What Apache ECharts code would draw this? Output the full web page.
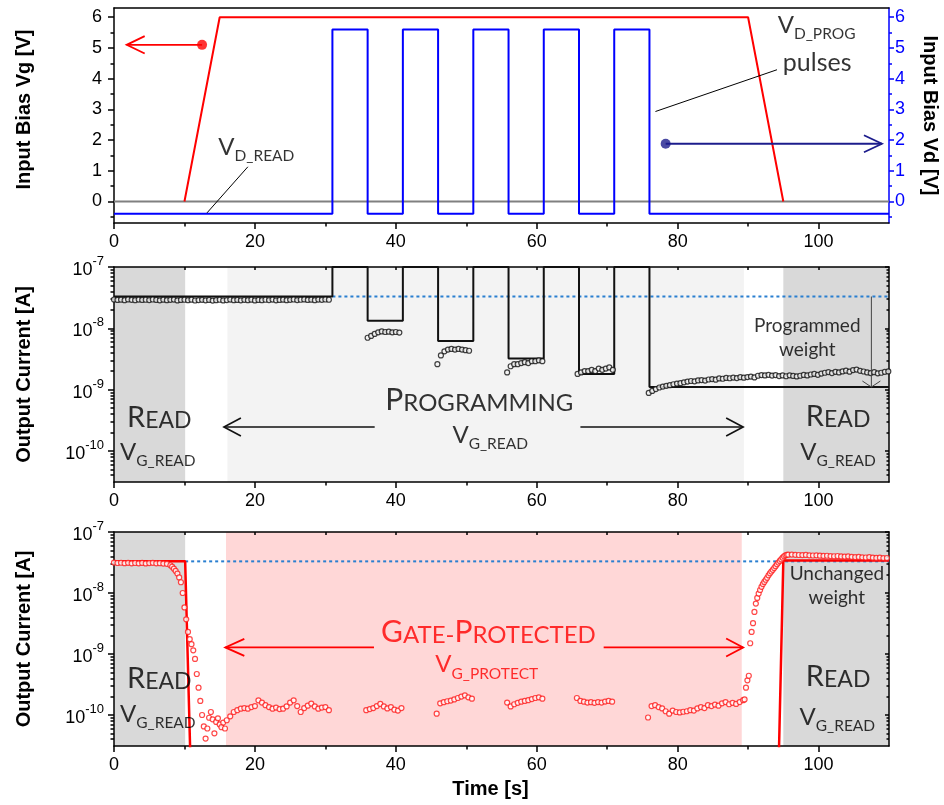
<!DOCTYPE html>
<html><head><meta charset="utf-8">
<script src="https://cdn.jsdelivr.net/npm/echarts@6/dist/echarts.min.js"></script>
<style>html,body{margin:0;padding:0;background:#fff}#c{width:944px;height:805px}</style>
</head><body><div id="c"></div>
<script>
// ================= DATA =================
// time axis ticks [s]
const xTickLabels = [0, 20, 40, 60, 80, 100];
const xMinorTicks = [10, 30, 50, 70, 90];
const xTopTicks = [10, 20, 30, 40, 50, 60, 70, 80, 90, 100];

// panel 1 (bias) ticks [V]
const p1TickLabels = [0, 1, 2, 3, 4, 5, 6];
const p1MinorTicks = [-0.5, 0.5, 1.5, 2.5, 3.5, 4.5, 5.5];

// panel 1: gate bias Vg [V]
const vgTimes = [10, 15, 90, 95];
const vgValues = [0, 6, 6, 0];
// panel 1: zero reference line
const zeroTimes = [0, 110];
const zeroValues = [0, 0];
// panel 1: drain programming pulses Vd [V]
const pulseStarts = [31, 41, 51, 61, 71];
const pulseEnds = [36, 46, 56, 66, 76];
const vdHigh = 5.6;
const vdLow = -0.4;

// current axes (values stored in nA; labels shown in A)
const logLabelValues = [0.1, 1, 10, 100];   // 1e-10 ... 1e-7 A
const refLevel = 33;                          // initial weight level, nA

// panel 2: programming reference (black step) line [nA]
const p2StepTimes  = [0, 31, 31, 36, 36, 41, 41, 46, 46, 51, 51, 56, 56, 61, 61, 66, 66, 71, 71, 76, 76, 110];
const p2StepValues = [33, 33, 100, 100, 13.3, 13.3, 100, 100, 6.2, 6.2, 100, 100, 3.2, 3.2, 100, 100, 1.8, 1.8, 100, 100, 1.1, 1.1];

// panel 2: measured current segments [nA], sampled every 0.5 s
const p2SegStarts = [0, 36, 45.9, 55.8, 65.8, 75.9];
const p2SegStep = 0.5;
const p2SegA = [29.5,29.0,29.3,28.8,29.6,29.1,28.7,29.4,29.0,29.2,
  28.9,29.5,29.0,28.6,29.3,28.8,29.1,29.4,28.5,29.0,
  29.2,28.7,29.3,28.4,28.9,29.1,28.6,29.0,28.3,28.8,
  29.2,28.5,28.9,29.4,28.7,29.0,28.6,29.1,28.8,29.3,
  28.5,29.0,28.7,29.2,28.9,29.4,28.6,29.0,29.3,28.8,
  29.1,29.5,28.9,29.2,29.6,29.0,29.3,28.8,29.4,29.1,
  29.5,29.2];
const p2SegB = [7.0,7.5,8.1,8.6,8.9,8.7,8.8,8.6,8.7,8.5];
const p2SegC = [2.6,3.6,4.2,4.5,4.6,4.5,4.6,4.5,4.4,4.3];
const p2SegD = [1.9,2.4,2.6,2.6,2.7,2.8,2.7,2.9,2.9,3.0,2.9];
const p2SegE = [1.8,1.9,2.0,2.0,2.1,2.0,2.2,2.1,2.2,2.3,2.1];
const p2SegF = [0.88,0.95,1.02,1.08,1.12,1.15,1.18,1.22,1.25,1.27,
  1.31,1.35,1.38,1.36,1.41,1.43,1.40,1.46,1.48,1.45,
  1.52,1.50,1.55,1.53,1.57,1.54,1.59,1.56,1.60,1.63,
  1.58,1.68,1.72,1.70,1.74,1.69,1.72,1.66,1.70,1.65,
  1.71,1.67,1.64,1.68,1.73,1.70,1.76,1.80,1.74,1.82,
  1.88,1.93,1.86,1.95,1.90,1.98,2.03,1.96,2.08,2.12,
  2.02,1.97,1.90,1.86,1.92,1.84,1.88,1.95,1.98];

// panel 3: gate-protected reference (red) line [nA]; 0.01 lies below the axis and is clipped
const p3LineTimes  = [0, 10.1, 10.91, 94.3, 95, 110];
const p3LineValues = [33, 33, 0.01, 0.01, 34, 34];

// panel 3: measured current segments [nA]
const p3SegStarts = [0, 8, 13.25, 16.5, 35.8, 45.8, 55.8, 65.7, 75.8, 89.5, 96.2];
const p3SegSteps  = [0.5, 0.25, 0.25, 0.5, 0.5, 0.5, 0.5, 0.5, 0.5, 0.2, 0.5];
const p3Seg1 = [31.5,31.0,31.3,30.8,31.2,30.6,31.0,30.7,31.1,30.5,30.9,31.2,30.6,30.8,30.4,30.1];
const p3Seg2 = [28.5,27.0,25.0,23.0,20.8,18.0,15.0,10.0,5.8,3.7,2.3,1.75,1.45,1.15,0.83,0.47,0.28,0.17,0.10,0.065,0.041];
const p3Seg3 = [0.06,0.09,0.112,0.085,0.05,0.077,0.088,0.07,0.063,0.075,0.06,0.082];
const p3Seg4 = [0.095,0.112,0.12,0.127,0.13,0.127,0.135,0.14,0.174,0.16,0.145,0.135,0.127,0.132,0.125,
  0.127,0.138,0.16,0.174,0.14,0.112,0.13,0.142,0.154,0.138,0.127,0.132,0.135,0.12];
const p3Seg5 = [0.12,0.125,0.13,0.14,0.152,0.138,0.128,0.135,0.122,0.118,0.13];
const p3Seg6 = [0.105,0.155,0.162,0.168,0.172,0.18,0.19,0.2,0.21,0.195,0.185];
const p3Seg7 = [0.16,0.138,0.15,0.158,0.165,0.17,0.175,0.182,0.19,0.195,0.185];
const p3Seg8 = [0.19,0.17,0.165,0.16,0.162,0.158,0.163,0.16,0.166,0.17,0.165];
const p3Seg9 = [0.091,0.14,0.145,0.135,0.128,0.115,0.105,0.118,0.112,0.11,0.113,0.115,0.12,0.118,
  0.128,0.135,0.13,0.145,0.14,0.148,0.142,0.155,0.163,0.15,0.158,0.152,0.163,0.175];
const p3Seg10 = [0.18,0.28,0.37,0.44,1.5,2.3,3.2,4.9,6.7,8.3,9.8,11.2,12.6,14.0,15.2,16.5,
  17.7,19.5,21.0,22.5,24.0,25.6,27.5,29.5,31.5,33.5,35.5,38.0,40.0,41.5,42.2,42.5];
const p3Seg11 = [42.6,42.3,42.0,41.8,42.1,41.5,41.2,41.4,40.9,40.5,40.8,40.3,40.0,40.4,
  39.8,39.5,39.9,39.2,38.8,39.0,38.5,38.2,38.6,38.0,37.6,37.9,37.3,37.5];

// shaded phases [s]
const readPhases = [[0, 10.1], [95, 110]];
const p2ProgPhase = [[16.1, 89.4]];
const p3ProtPhase = [[15.9, 89.1]];

// ================= BUILD =================
const FONT = 'Liberation Sans';
const TF = 'Lato';
const LOGMIN = 0.031, LOGMAX = 100;

function seg(t0, dt, vals) { return vals.map((v, i) => [Math.round((t0 + i * dt) * 1000) / 1000, v]); }
function zip(a, b) { return a.map((v, i) => [v, b[i]]); }

const vdPts = [[0, vdLow]];
pulseStarts.forEach((s, i) => { vdPts.push([s, vdLow], [s, vdHigh], [pulseEnds[i], vdHigh], [pulseEnds[i], vdLow]); });
vdPts.push([110, vdLow]);

const p2Segs = [p2SegA, p2SegB, p2SegC, p2SegD, p2SegE, p2SegF];
let p2Points = [];
p2Segs.forEach((s, i) => { p2Points = p2Points.concat(seg(p2SegStarts[i], p2SegStep, s)); });
const p3Segs = [p3Seg1, p3Seg2, p3Seg3, p3Seg4, p3Seg5, p3Seg6, p3Seg7, p3Seg8, p3Seg9, p3Seg10, p3Seg11];
let p3Points = [];
p3Segs.forEach((s, i) => { p3Points = p3Points.concat(seg(p3SegStarts[i], p3SegSteps[i], s)); });

const logMinor = [];
[0.01, 0.1, 1, 10].forEach(d => { for (let k = 2; k <= 9; k++) { const v = +(k * d).toPrecision(3); if (v >= LOGMIN && v <= LOGMAX) logMinor.push(v); } });

const LINE = { color: '#000', width: 1.5 };
const BLUE = '#0000ff';

function xAxes(g, withName) {
  const base = { type: 'value', gridIndex: g, min: 0, max: 110, splitLine: { show: false }, axisLine: { show: false, onZero: false }, axisLabel: { show: false }, axisTick: { show: false } };
  const main = Object.assign({}, base, {
    position: 'bottom',
    axisLine: { show: true, onZero: false, lineStyle: LINE },
    axisTick: { show: true, length: 6, customValues: xTickLabels, lineStyle: LINE },
    axisLabel: { show: true, customValues: xTickLabels, margin: 10, fontFamily: FONT, fontSize: 18, color: '#000' }
  });
  if (withName) Object.assign(main, { name: 'Time [s]', nameLocation: 'middle', nameGap: 33,
    nameTextStyle: { fontFamily: FONT, fontWeight: 'bold', fontSize: 20, color: '#000', padding: [0, 22, 0, 0] } });
  return [
    main,
    Object.assign({}, base, { position: 'bottom', axisTick: { show: true, length: 3.5, customValues: xMinorTicks, lineStyle: LINE } }),
    Object.assign({}, base, { position: 'top', axisLine: { show: true, onZero: false, lineStyle: LINE }, axisTick: { show: g > 0, inside: true, length: 3, customValues: xTopTicks, lineStyle: LINE } })
  ];
}
const titleStyle = { fontFamily: FONT, fontWeight: 'bold', fontSize: 20, color: '#000' };

function p1YAxes() {
  const base = { type: 'value', gridIndex: 0, min: -0.7, max: 6.3, splitLine: { show: false }, axisLine: { show: false, onZero: false }, axisLabel: { show: false }, axisTick: { show: false } };
  return [
    Object.assign({}, base, { position: 'left', axisLine: { show: true, onZero: false, lineStyle: LINE },
      axisTick: { show: true, length: 6, customValues: p1TickLabels, lineStyle: LINE },
      axisLabel: { show: true, customValues: p1TickLabels, margin: 12, fontFamily: FONT, fontSize: 18, color: '#000' },
      name: 'Input Bias Vg [V]', nameLocation: 'middle', nameGap: 80, nameTextStyle: Object.assign({}, titleStyle, { padding: [0, 0, 0, 12] }) }),
    Object.assign({}, base, { position: 'left', axisTick: { show: true, length: 3.5, customValues: p1MinorTicks, lineStyle: LINE } }),
    Object.assign({}, base, { position: 'right', axisLine: { show: true, onZero: false, lineStyle: { color: BLUE, width: 1.5 } },
      axisTick: { show: true, length: 5, customValues: p1TickLabels, lineStyle: { color: BLUE, width: 1.5 } },
      axisLabel: { show: true, customValues: p1TickLabels, margin: 6, fontFamily: FONT, fontSize: 18, color: BLUE },
      name: 'Input Bias Vd [V]', nameLocation: 'middle', nameGap: 31, nameRotate: -90, nameTextStyle: titleStyle }),
    Object.assign({}, base, { position: 'right', axisTick: { show: true, length: 3, customValues: p1MinorTicks, lineStyle: { color: BLUE, width: 1.5 } } })
  ];
}
function logYAxes(g) {
  const base = { type: 'log', logBase: 10, gridIndex: g, min: LOGMIN, max: LOGMAX, splitLine: { show: false }, axisLine: { show: false, onZero: false }, axisLabel: { show: false }, axisTick: { show: false } };
  return [
    Object.assign({}, base, { position: 'left', axisLine: { show: true, onZero: false, lineStyle: LINE },
      axisTick: { show: true, length: 6, customValues: logLabelValues, lineStyle: LINE },
      axisLabel: { show: true, customValues: logLabelValues, margin: 10,
        formatter: v => '{m|10}{e|' + (Math.round(Math.log10(v)) - 9) + '}',
        rich: { m: { fontFamily: FONT, fontSize: 18, lineHeight: 24, verticalAlign: 'bottom', color: '#000' },
                e: { fontFamily: FONT, fontSize: 13, lineHeight: 13, verticalAlign: 'top', color: '#000' } } },
      name: 'Output Current [A]', nameLocation: 'middle', nameGap: 80, nameTextStyle: titleStyle }),
    Object.assign({}, base, { position: 'left', axisTick: { show: true, length: 3.5, customValues: logMinor, lineStyle: LINE } }),
    Object.assign({}, base, { position: 'right', axisLine: { show: true, onZero: false, lineStyle: LINE },
      axisTick: { show: true, inside: true, length: 4, customValues: logLabelValues, lineStyle: LINE } }),
    Object.assign({}, base, { position: 'right', axisTick: { show: true, inside: true, length: 2.5, customValues: logMinor, lineStyle: LINE } })
  ];
}

function richFor(color) {
  return {
    capR: { fontFamily: TF, fontSize: 29, lineHeight: 29, verticalAlign: 'bottom', color },
    capE: { fontFamily: TF, fontSize: 23, lineHeight: 25, verticalAlign: 'bottom', color },
    bigP: { fontFamily: TF, fontSize: 30, lineHeight: 30, verticalAlign: 'bottom', color },
    bigR: { fontFamily: TF, fontSize: 24, lineHeight: 26, verticalAlign: 'bottom', color },
    vv:   { fontFamily: TF, fontSize: 24, lineHeight: 29, verticalAlign: 'top', color },
    sub:  { fontFamily: TF, fontSize: 15.5, lineHeight: 16, verticalAlign: 'bottom', color },
    txt:  { fontFamily: TF, fontSize: 19, lineHeight: 24, color },
    txtL: { fontFamily: TF, fontSize: 25, lineHeight: 28, color }
  };
}
const READ_T = '{capR|R}{capE|EAD}';
const VGREAD_T = '{vv|V}{sub|G_READ}';

function textSeries(g, yIdx, items) {
  return {
    type: 'scatter', xAxisIndex: 3 * g, yAxisIndex: yIdx, symbolSize: 0, z: 10, silent: true,
    data: items.map(it => ({
      value: [it.x, it.y],
      label: { show: true, position: [0, 0], align: it.align, verticalAlign: 'middle',
        formatter: () => it.text, rich: richFor(it.color || '#000') }
    }))
  };
}

function arrowSeries(g, yIdx, arrows, color, width) {
  return {
    type: 'custom', xAxisIndex: 3 * g, yAxisIndex: yIdx, z: 8, silent: true,
    data: arrows,
    renderItem: (params, api) => {
      const p1 = api.coord([api.value(0), api.value(1)]);
      const p2 = api.coord([api.value(2), api.value(3)]);
      const hl = api.value(4), hw = api.value(5);
      const ch = [{ type: 'line', shape: { x1: p1[0], y1: p1[1], x2: p2[0], y2: p2[1] }, style: { stroke: color, lineWidth: width } }];
      if (hl > 0) {
        const dx = p2[0] - p1[0], dy = p2[1] - p1[1], L = Math.hypot(dx, dy), ux = dx / L, uy = dy / L;
        const bx = p2[0] - ux * hl, by = p2[1] - uy * hl;
        ch.push({ type: 'polyline', shape: { points: [[bx - uy * hw, by + ux * hw], [p2[0], p2[1]], [bx + uy * hw, by - ux * hw]] }, style: { stroke: color, fill: null, lineWidth: width } });
      }
      return { type: 'group', children: ch };
    }
  };
}

function shadeSeries(g, yIdx, ranges, color, yRef) {
  return {
    type: 'custom', xAxisIndex: 3 * g, yAxisIndex: yIdx, z: 0, silent: true,
    data: ranges,
    encode: { x: [0, 1] },
    renderItem: (params, api) => {
      const cs = params.coordSys;
      const a = api.coord([api.value(0), yRef])[0], b = api.coord([api.value(1), yRef])[0];
      return { type: 'rect', shape: { x: a, y: cs.y, width: b - a, height: cs.height }, style: { fill: color } };
    }
  };
}

function lineSeries(g, yIdx, data, color, width, type) {
  return { type: 'line', xAxisIndex: 3 * g, yAxisIndex: yIdx, data, symbol: 'none', z: 3, silent: true, clip: true,
    lineStyle: { color, width, type: type || 'solid' } };
}

// annotation geometry (data coordinates)
const p1Arrows_red = [[12.5, 5.1, 1.8, 5.1, 18, 8.7]];
const p1Arrows_navy = [[78.3, 1.88, 109, 1.88, 18, 8.5]];
const p1Leaders = [[19.0, 1.13, 13.2, -0.37, 0, 0], [94.1, 4.29, 76.85, 2.93, 0, 0]];
const p2Arrows = [[37, 0.245, 15.6, 0.245, 17, 9], [66.2, 0.245, 89.3, 0.245, 17, 9]];
const p2WeightArrow = [[107.5, 33, 107.5, 1.1, 6, 9]];
const p3Arrows = [[36.9, 1.28, 15.8, 1.28, 19, 8.5], [69.5, 1.28, 89.3, 1.28, 17, 9]];

const option = {
  animation: false,
  backgroundColor: '#fff',
  grid: [
    { left: 114, top: 8, width: 775, height: 215, outerBoundsMode: 'none', containLabel: false },
    { left: 114, top: 267, width: 775, height: 215, outerBoundsMode: 'none', containLabel: false },
    { left: 114, top: 532, width: 775, height: 214, outerBoundsMode: 'none', containLabel: false }
  ],
  xAxis: [].concat(xAxes(0, false), xAxes(1, false), xAxes(2, true)),
  yAxis: [].concat(p1YAxes(), logYAxes(1), logYAxes(2)),
  series: [
    // ---- panel 1 ----
    lineSeries(0, 0, zip(zeroTimes, zeroValues), '#808080', 2),
    lineSeries(0, 0, zip(vgTimes, vgValues), '#ff0000', 2),
    lineSeries(0, 2, vdPts, BLUE, 2),
    arrowSeries(0, 0, p1Arrows_red, '#ff0000', 1.8),
    arrowSeries(0, 0, p1Arrows_navy, '#1c1c8c', 1.8),
    arrowSeries(0, 0, p1Leaders, '#000', 1),
    { type: 'scatter', xAxisIndex: 0, yAxisIndex: 0, symbolSize: 10, z: 9, silent: true,
      data: [{ value: [12.5, 5.1], itemStyle: { color: '#ff0000' } }, { value: [78.3, 1.88], itemStyle: { color: '#1c1c8c' } }] },
    textSeries(0, 0, [
      { x: 14.8, y: 1.68, align: 'left', text: '{vv|V}{sub|D_READ}' },
      { x: 94.2, y: 5.66, align: 'left', text: '{vv|V}{sub|D_PROG}' },
      { x: 99.8, y: 4.5, align: 'center', text: '{txtL|pulses}' }
    ]),
    // ---- panel 2 ----
    shadeSeries(1, 4, readPhases, '#d9d9d9', 1),
    shadeSeries(1, 4, p2ProgPhase, '#f3f3f3', 1),
    lineSeries(1, 4, [[31, refLevel], [110, refLevel]], '#2a7fd0', 2, [3, 3]),
    lineSeries(1, 4, zip(p2StepTimes, p2StepValues), '#111', 2),
    { type: 'scatter', xAxisIndex: 3, yAxisIndex: 4, data: p2Points, symbol: 'circle', symbolSize: 5, z: 4, silent: true,
      itemStyle: { color: '#f4f4f4', borderColor: '#111', borderWidth: 1.2 } },
    arrowSeries(1, 4, p2Arrows, '#111', 1.6),
    arrowSeries(1, 4, p2WeightArrow, '#444', 1),
    textSeries(1, 4, [
      { x: 1.85, y: 0.35, align: 'left', text: READ_T },
      { x: 0.85, y: 0.087, align: 'left', text: VGREAD_T },
      { x: 98.2, y: 0.365, align: 'left', text: READ_T },
      { x: 97.4, y: 0.087, align: 'left', text: VGREAD_T },
      { x: 38.5, y: 0.66, align: 'left', text: '{bigP|P}{bigR|ROGRAMMING}' },
      { x: 53.4, y: 0.164, align: 'center', text: VGREAD_T },
      { x: 98.4, y: 6.9, align: 'center', text: '{txt|Programmed}\n{txt|weight}' }
    ]),
    // ---- panel 3 ----
    shadeSeries(2, 8, readPhases, '#d9d9d9', 1),
    shadeSeries(2, 8, p3ProtPhase, '#ffd7d7', 1),
    lineSeries(2, 8, [[10.1, refLevel], [110, refLevel]], '#2a7fd0', 2, [3, 3]),
    lineSeries(2, 8, zip(p3LineTimes, p3LineValues), '#ff0000', 2.5),
    { type: 'scatter', xAxisIndex: 6, yAxisIndex: 8, data: p3Points, symbol: 'circle', symbolSize: 5, z: 4, silent: true,
      itemStyle: { color: '#ffffff', borderColor: '#ff1a1a', borderWidth: 1.2 } },
    arrowSeries(2, 8, p3Arrows, '#ff0000', 1.8),
    textSeries(2, 8, [
      { x: 37.9, y: 2.27, align: 'left', color: '#ff0000', text: '{bigP|G}{bigR|ATE-}{bigP|P}{bigR|ROTECTED}' },
      { x: 45.6, y: 0.61, align: 'left', color: '#ff0000', text: '{vv|V}{sub|G_PROTECT}' },
      { x: 1.85, y: 0.394, align: 'left', text: READ_T },
      { x: 0.85, y: 0.093, align: 'left', text: VGREAD_T },
      { x: 98.2, y: 0.42, align: 'left', text: READ_T },
      { x: 97.3, y: 0.084, align: 'left', text: VGREAD_T },
      { x: 102.6, y: 13, align: 'center', text: '{txt|Unchanged}\n{txt|weight}' }
    ])
  ]
};

const chart = echarts.init(document.getElementById('c'), null, { renderer: 'canvas' });
chart.setOption(option);
</script>
</body></html>
